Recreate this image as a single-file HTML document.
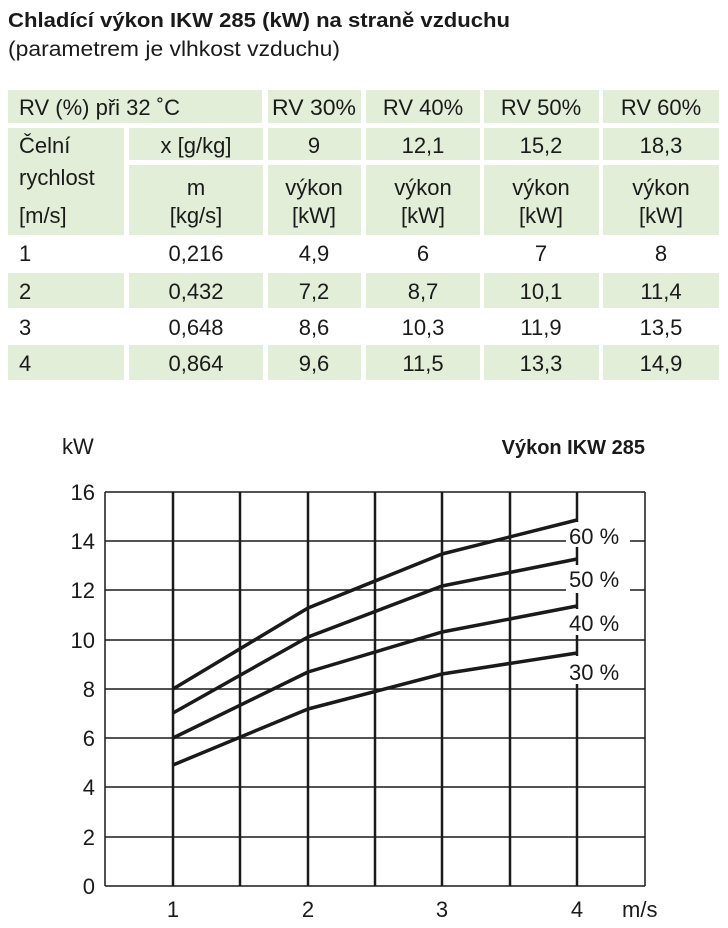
<!DOCTYPE html>
<html><head><meta charset="utf-8"><style>
html,body{margin:0;padding:0;background:#fff;}
svg{display:block;font-family:"Liberation Sans",sans-serif;}
</style></head><body>
<svg width="728" height="928" viewBox="0 0 728 928" xmlns="http://www.w3.org/2000/svg">
<text x="8" y="27" font-size="20" font-weight="bold" fill="#1a1a1a" textLength="502" lengthAdjust="spacingAndGlyphs">Chladící výkon IKW 285 (kW) na straně vzduchu</text>
<text x="8" y="56" font-size="21" fill="#1a1a1a" textLength="332" lengthAdjust="spacingAndGlyphs">(parametrem je vlhkost vzduchu)</text>
<g fill="#e2eed8">
<rect x="8" y="90" width="254" height="33"/>
<rect x="268" y="90" width="93" height="33"/><rect x="366" y="90" width="114" height="33"/><rect x="484" y="90" width="115" height="33"/><rect x="603" y="90" width="116" height="33"/>
<rect x="8" y="128" width="116" height="107"/>
<rect x="129" y="128" width="134" height="32"/><rect x="268" y="128" width="93" height="32"/><rect x="366" y="128" width="114" height="32"/><rect x="484" y="128" width="115" height="32"/><rect x="603" y="128" width="116" height="32"/>
<rect x="129" y="165" width="134" height="70"/><rect x="268" y="165" width="93" height="70"/><rect x="366" y="165" width="114" height="70"/><rect x="484" y="165" width="115" height="70"/><rect x="603" y="165" width="116" height="70"/>
<rect x="8" y="273" width="116" height="35"/><rect x="129" y="273" width="134" height="35"/><rect x="268" y="273" width="93" height="35"/><rect x="366" y="273" width="114" height="35"/><rect x="484" y="273" width="115" height="35"/><rect x="603" y="273" width="116" height="35"/>
<rect x="8" y="345" width="116" height="35"/><rect x="129" y="345" width="134" height="35"/><rect x="268" y="345" width="93" height="35"/><rect x="366" y="345" width="114" height="35"/><rect x="484" y="345" width="115" height="35"/><rect x="603" y="345" width="116" height="35"/>
</g>
<g font-size="22" fill="#1a1a1a">
<text x="19" y="115">RV (%) při 32 ˚C</text>
<g text-anchor="middle">
<text x="314" y="115" textLength="84" lengthAdjust="spacingAndGlyphs">RV 30%</text><text x="423" y="115">RV 40%</text><text x="541" y="115">RV 50%</text><text x="661" y="115">RV 60%</text>
<text x="196" y="153">x [g/kg]</text><text x="314" y="153">9</text><text x="423" y="153">12,1</text><text x="541" y="153">15,2</text><text x="661" y="153">18,3</text>
<text x="196" y="195">m</text><text x="314" y="195">výkon</text><text x="423" y="195">výkon</text><text x="541" y="195">výkon</text><text x="661" y="195">výkon</text>
<text x="196" y="223">[kg/s]</text><text x="314" y="223">[kW]</text><text x="423" y="223">[kW]</text><text x="541" y="223">[kW]</text><text x="661" y="223">[kW]</text>
<text x="196" y="261">0,216</text><text x="314" y="261">4,9</text><text x="423" y="261">6</text><text x="541" y="261">7</text><text x="661" y="261">8</text>
<text x="196" y="299">0,432</text><text x="314" y="299">7,2</text><text x="423" y="299">8,7</text><text x="541" y="299">10,1</text><text x="661" y="299">11,4</text>
<text x="196" y="335">0,648</text><text x="314" y="335">8,6</text><text x="423" y="335">10,3</text><text x="541" y="335">11,9</text><text x="661" y="335">13,5</text>
<text x="196" y="371">0,864</text><text x="314" y="371">9,6</text><text x="423" y="371">11,5</text><text x="541" y="371">13,3</text><text x="661" y="371">14,9</text>
</g>
<text x="19" y="153">Čelní</text><text x="19" y="185">rychlost</text><text x="19" y="223">[m/s]</text>
<text x="19" y="261">1</text><text x="19" y="299">2</text><text x="19" y="335">3</text><text x="19" y="371">4</text>
</g>
<!-- chart -->
<g stroke="#1a1a1a" stroke-width="1.5">
<line x1="105" y1="492" x2="645" y2="492"/>
<line x1="105" y1="541" x2="645" y2="541"/>
<line x1="105" y1="590" x2="645" y2="590"/>
<line x1="105" y1="640" x2="645" y2="640"/>
<line x1="105" y1="689" x2="645" y2="689"/>
<line x1="105" y1="738" x2="645" y2="738"/>
<line x1="105" y1="787" x2="645" y2="787"/>
<line x1="105" y1="837" x2="645" y2="837"/>
<line x1="105" y1="886" x2="645" y2="886"/>
<line x1="105" y1="492" x2="105" y2="886"/>
<line x1="645" y1="492" x2="645" y2="886"/>
</g>
<g stroke="#1a1a1a" stroke-width="2.5">
<line x1="173" y1="492" x2="173" y2="886"/>
<line x1="240" y1="492" x2="240" y2="886"/>
<line x1="308" y1="492" x2="308" y2="886"/>
<line x1="375" y1="492" x2="375" y2="886"/>
<line x1="442" y1="492" x2="442" y2="886"/>
<line x1="510" y1="492" x2="510" y2="886"/>
<line x1="577" y1="492" x2="577" y2="886"/>
</g>
<g fill="#fff">
<rect x="566" y="522" width="64" height="25"/>
<rect x="566" y="565" width="64" height="28"/>
<rect x="566" y="609" width="64" height="26"/>
<rect x="566" y="656" width="64" height="28"/>
</g>
<g stroke="#1a1a1a" stroke-width="3.5" fill="none" stroke-linejoin="round">
<polyline points="173,765 308,709 442,674 577,653"/>
<polyline points="173,738 308,672 442,632 577,606"/>
<polyline points="173,713 308,637 442,586 577,559"/>
<polyline points="173,689 308,608 442,554 577,520"/>
</g>
<g font-size="22" fill="#1a1a1a">
<text x="569" y="544">60 %</text><text x="569" y="587">50 %</text><text x="569" y="631">40 %</text><text x="569" y="680">30 %</text>
<text x="62" y="454">kW</text>
<text x="645" y="454" text-anchor="end" font-weight="bold" font-size="20">Výkon IKW 285</text>
<g text-anchor="end">
<text x="95" y="500">16</text><text x="95" y="549">14</text><text x="95" y="598">12</text><text x="95" y="648">10</text>
<text x="95" y="697">8</text><text x="95" y="746">6</text><text x="95" y="795">4</text><text x="95" y="845">2</text><text x="95" y="894">0</text>
</g>
<g text-anchor="middle">
<text x="173" y="917">1</text><text x="308" y="917">2</text><text x="442" y="917">3</text><text x="577" y="917">4</text>
</g>
<text x="622" y="917">m/s</text>
</g>
</svg>
</body></html>
